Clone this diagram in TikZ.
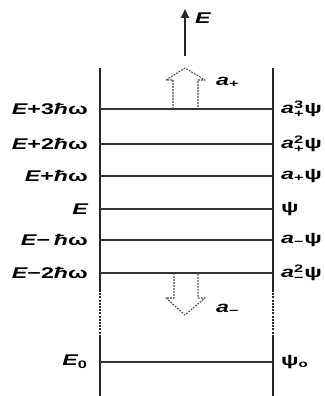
\documentclass[tikz,border=0pt]{standalone}
\usepackage{fontspec}
\usepackage{amsmath}
\usepackage{graphicx}
\setmainfont{Liberation Sans}
\usetikzlibrary{arrows.meta}
\newcommand{\wide}[1]{\scalebox{1.5}[1]{#1}}
\begin{document}
\begin{tikzpicture}[x=1pt,y=-1pt,
  wall/.style={line width=2pt,draw=black!85},
  level/.style={line width=1.6pt,draw=black!80},
  lbl/.style={inner sep=0pt,font=\fontsize{15.5}{18}\selectfont\bfseries},
  llbl/.style={lbl,anchor=east},
  rlbl/.style={lbl,anchor=west},
  hollow/.style={line width=1.1pt,draw=black!70,dash pattern=on 1.8pt off 1.2pt,line join=round}]
\useasboundingbox (0,0) rectangle (324,396);
% walls
\coordinate (LT) at (100,68);
\coordinate (LB) at (100,396);
\coordinate (RT) at (273,68);
\coordinate (RB) at (273,396);
\coordinate (LD1) at (100,290);
\coordinate (LD2) at (100,336);
\coordinate (RD1) at (273,290);
\coordinate (RD2) at (273,336);
\draw[wall] (LT) -- (LD1);
\draw[wall,dash pattern=on 2pt off 1.2pt] (LD1) -- (LD2);
\draw[wall] (LD2) -- (LB);
\draw[wall] (RT) -- (RD1);
\draw[wall,dash pattern=on 2pt off 1.2pt] (RD1) -- (RD2);
\draw[wall] (RD2) -- (RB);
% levels
\foreach \n/\yy in {p3/109,p2/144,p1/176,z/209,m1/240,m2/273,g/362}{
  \coordinate (L\n) at (100,\yy);
  \coordinate (R\n) at (273,\yy);
  \draw[level] (L\n) -- (R\n);
}
% left labels
\node[llbl] (tp3) at (88,109) {\wide{\itshape E\upshape+3\itshape ħ\upshape ω}};
\node[llbl] (tp2) at (88,144) {\wide{\itshape E\upshape+2\itshape ħ\upshape ω}};
\node[llbl] (tp1) at (88,176) {\wide{\itshape E\upshape+\itshape ħ\upshape ω}};
\node[llbl] (tz) at (88,209) {\wide{\itshape E}};
\node[llbl] (tm1) at (88,240) {\wide{\itshape E\upshape−\,\itshape ħ\upshape ω}};
\node[llbl] (tm2) at (88,273) {\wide{\itshape E\upshape−2\itshape ħ\upshape ω}};
\node[llbl] (tg) at (88,362) {\wide{$\textit{E}_{\text{0}}$}};
% right labels
\node[rlbl] (sp3) at (281,109) {\wide{$\textit{a}^{\text{3}}_{\text{+}}$ψ}};
\node[rlbl] (sp2) at (281,144) {\wide{$\textit{a}^{\text{2}}_{\text{+}}$ψ}};
\node[rlbl] (sp1) at (281,176) {\wide{$\textit{a}_{\text{+}}$ψ}};
\node[rlbl] (sz) at (281,209) {\wide{ψ}};
\node[rlbl] (sm1) at (281,240) {\wide{$\textit{a}_{\text{−}}$ψ}};
\node[rlbl] (sm2) at (281,273) {\wide{$\textit{a}^{\text{2}}_{\text{−}}$ψ}};
\node[rlbl] (sg) at (281,362) {\wide{ψ\raisebox{-2pt}{\fontsize{10}{11}\selectfont o}}};
% energy axis
\coordinate (ea) at (185,56);
\node[lbl,anchor=west] (eb) at (195,18) {\wide{\itshape E}};
\coordinate (et) at (185,9);
\draw[line width=2.2pt,draw=black!85,-{Triangle[length=9pt,width=8pt]}] (ea) -- (et);
% raising operator
\coordinate (u1) at (173,109);
\coordinate (u2) at (173,80);
\coordinate (u3) at (166,80);
\coordinate (u4) at (185,68);
\coordinate (u5) at (205,80);
\coordinate (u6) at (198,80);
\coordinate (u7) at (198,109);
\draw[hollow] (u1) -- (u2) -- (u3) -- (u4) -- (u5) -- (u6) -- (u7);
\node[lbl,anchor=west] (ap) at (216,82) {\wide{$\textit{a}_{\text{+}}$}};
% lowering operator
\coordinate (d1) at (174,273);
\coordinate (d2) at (174,298);
\coordinate (d3) at (166,298);
\coordinate (d4) at (185,315);
\coordinate (d5) at (205,298);
\coordinate (d6) at (198,298);
\coordinate (d7) at (198,273);
\draw[hollow] (d1) -- (d2) -- (d3) -- (d4) -- (d5) -- (d6) -- (d7);
\node[lbl,anchor=west] (am) at (216,309) {\wide{$\textit{a}_{\text{−}}$}};
\end{tikzpicture}
\end{document}
